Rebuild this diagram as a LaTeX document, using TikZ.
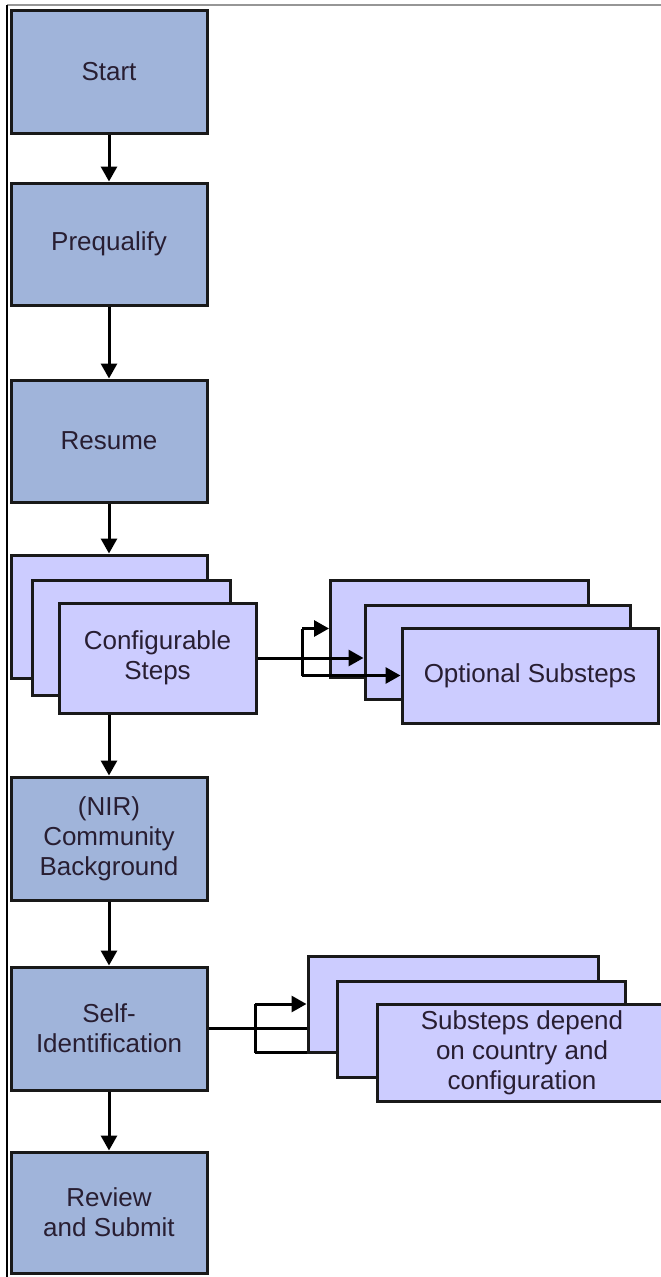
\documentclass[tikz,border=0pt]{standalone}
\usepackage{fontspec}
\setmainfont{Liberation Sans}
\usetikzlibrary{arrows.meta,backgrounds}
\definecolor{mainblue}{RGB}{160,180,218}
\definecolor{subblue}{RGB}{204,204,255}
\definecolor{txt}{RGB}{40,30,50}
\definecolor{framegray}{RGB}{150,150,150}
\tikzset{
  base/.style={draw=black!90, line width=3pt, align=center, inner sep=0pt, text=txt,
    font=\fontsize{26}{30}\selectfont},
  mainbox/.style={base, fill=mainblue, minimum width=196pt},
  subbox/.style={base, fill=subblue},
  conn/.style={line width=3pt, draw=black},
  arr/.style={conn, -{Triangle[width=16pt,length=15pt]}}
}
\begin{document}
\begin{tikzpicture}[x=1pt,y=-1pt]
\useasboundingbox (0,0) rectangle (661,1277);
% frame
\coordinate (ftl) at (7,5);
\coordinate (ftr) at (661,5);
\coordinate (fbl) at (7,1277);
\draw[framegray, line width=1.5pt] (ftl) -- (ftr);
\draw[black, line width=1.5pt] (ftl) -- (fbl);

% main column
\node[mainbox, minimum height=123pt] (start) at (109,71.5) {Start};
\node[mainbox, minimum height=122pt] (preq) at (109,244) {Prequalify};
\node[mainbox, minimum height=122pt] (resume) at (109,441) {Resume};

\node[mainbox, fill=subblue, minimum height=123pt] (cfgA) at (109,616.5) {};
\node[subbox, minimum width=198pt, minimum height=115pt] (cfgB) at (131.5,637.5) {};
\node[subbox, minimum width=197pt, minimum height=110pt] (cfgC) at (157.5,658) {Configurable\\Steps};

\node[subbox, minimum width=258pt, minimum height=97pt] (optA) at (459.5,628.5) {};
\node[subbox, minimum width=265pt, minimum height=94pt] (optB) at (497.5,652) {};
\node[subbox, minimum width=256pt, minimum height=95pt] (optC) at (530,675.5) {Optional Substeps};

\node[mainbox, minimum height=123pt] (nir) at (109,838.5) {(NIR)\\Community\\Background};
\node[mainbox, minimum height=123pt] (selfid) at (109,1028.5) {Self-\\Identification};
\node[mainbox, minimum height=121pt] (review) at (109,1212.5) {Review\\and Submit};

\node[subbox, minimum width=290pt, minimum height=96pt] (subA) at (453,1004) {};
\node[subbox, minimum width=288pt, minimum height=96pt] (subB) at (481,1029) {};
\node[subbox, minimum width=290pt, minimum height=97pt] (subC) at (522,1052.5) {Substeps depend\\on country and\\configuration};

% vertical flow
\draw[arr] (start) -- (preq);
\draw[arr] (preq) -- (resume);
\draw[arr] (resume) -- (cfgA);
\draw[arr] (nir.north |- cfgC.south) -- (nir.north);
\draw[arr] (nir) -- (selfid);
\draw[arr] (selfid) -- (review);

% configurable branches
\coordinate (j1) at (302,658);
\draw[conn] (cfgC.east) -- (j1);
\draw[conn] (j1 |- optA.west) -- (j1 |- optC.west);
\draw[arr] (j1 |- optA.west) -- (optA.west);
\draw[arr] (j1) -- (optB.west |- j1);
\draw[arr] (j1 |- optC.west) -- (optC.west);

% self-identification branches (behind the boxes)
\begin{scope}[on background layer]
\coordinate (j2) at (255,1028.5);
\draw[conn] (selfid.east) -- (j2);
\draw[conn] (j2 |- subA.west) -- (j2 |- subC.west);
\draw[arr] (j2 |- subA.west) -- (subA.west);
\draw[arr] (j2) -- (subB.west |- j2);
\draw[arr] (j2 |- subC.west) -- (subC.west);
\end{scope}
\end{tikzpicture}
\end{document}
